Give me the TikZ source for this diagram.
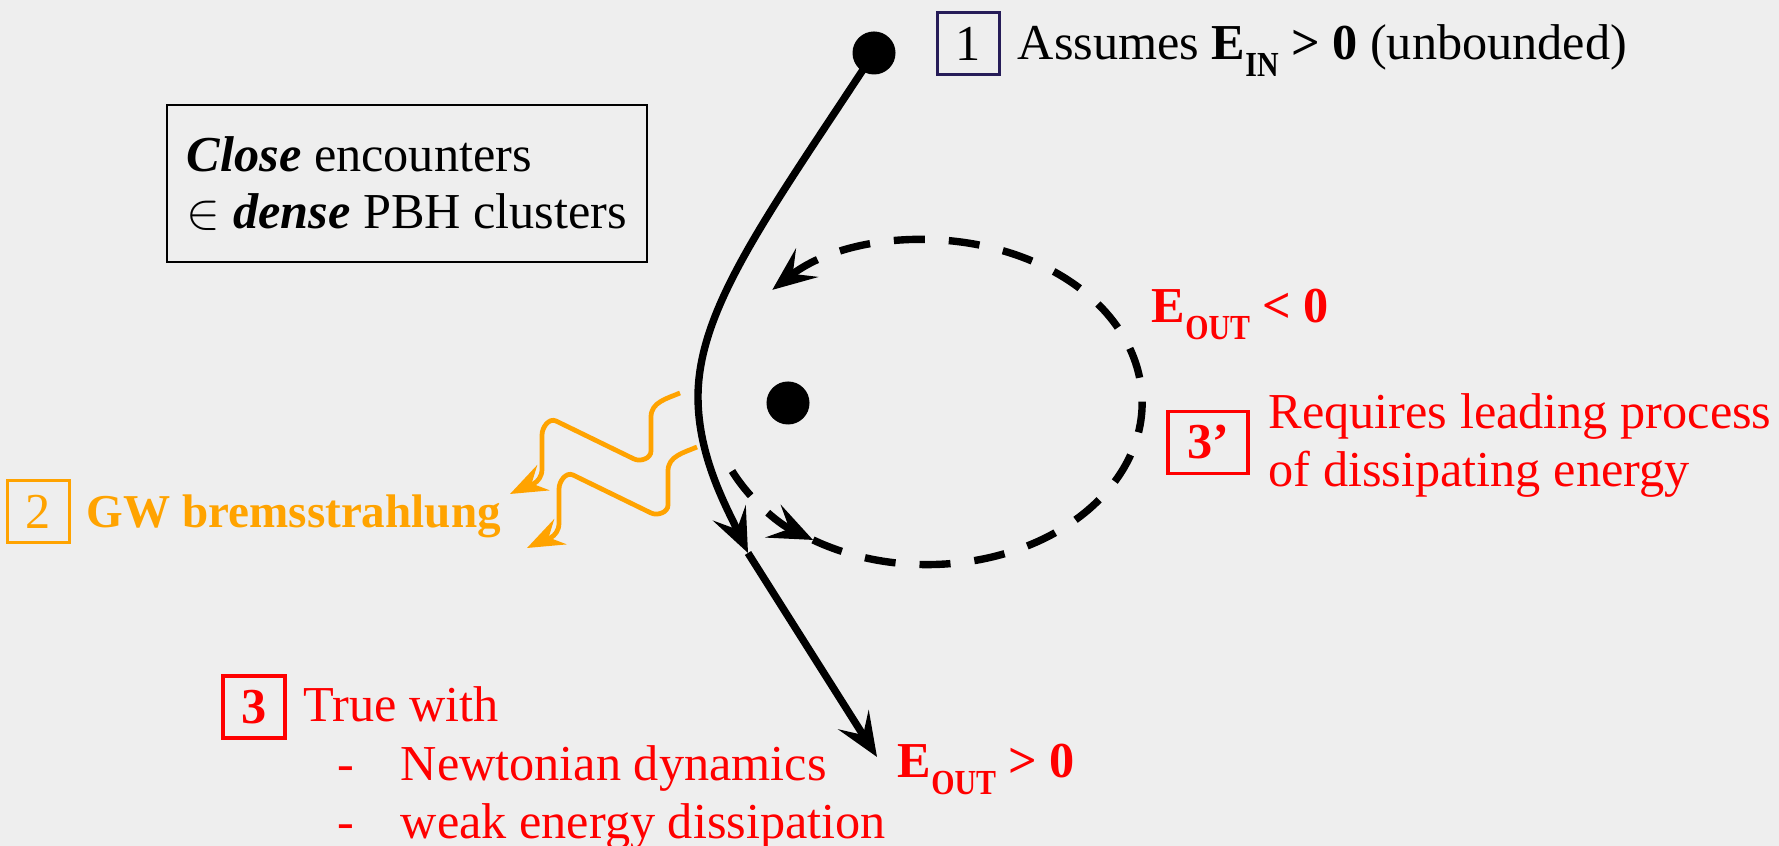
\documentclass[tikz,border=0pt]{standalone}
\usepackage{fontspec}
\setmainfont{Liberation Serif}
\usepackage{graphicx}
\usetikzlibrary{arrows.meta, positioning}

\definecolor{bgcol}{RGB}{238,238,238}
\definecolor{gworange}{RGB}{255,163,0}
\definecolor{boxnavy}{RGB}{38,28,88}
\definecolor{notered}{RGB}{255,0,0}

\newcommand{\lowsub}[1]{\raisebox{-0.33em}{\fontsize{10pt}{10pt}\selectfont\scalebox{0.85}[1]{#1}}}

\begin{document}
\begin{tikzpicture}[
    x=0.01cm, y=0.01cm,
    >={Stealth[length=4.4mm, width=3.6mm, inset=1.8mm]},
    txt/.style={
        inner sep=0pt, anchor=base west, align=left,
        font=\fontsize{14.3}{16.7}\selectfont
    },
    boldtxt/.style={txt, font=\fontsize{13.4}{16.7}\selectfont\bfseries},
    numbox/.style={
        draw, line width=0.9pt, inner sep=0pt,
        minimum width=6.2mm, minimum height=6.2mm,
        font=\fontsize{14.3}{16.7}\selectfont
    },
    hole/.style={circle, fill=black, inner sep=0pt, minimum size=4.3mm},
    orbitline/.style={line width=2.1pt},
    bound/.style={orbitline, dash pattern=on 3.1mm off 2.4mm},
    wave/.style={
        gworange, line width=1.35pt,
        -{Stealth[length=3.7mm, width=2.8mm, inset=1.3mm]}
    },
]

\useasboundingbox (0,0) rectangle (1779,846);
\fill[bgcol] (0,0) rectangle (1779,846);

% ── Black holes ──
\node[hole] (bh1) at (874,793) {};
\node[hole] (bh2) at (788,443) {};

% ── Hyperbolic trajectory ──
\coordinate (kink) at (748,293);
\coordinate (escape) at (877,89);
\draw[orbitline, ->] (bh1.center) .. controls (770,634) and (698,539) .. (698,449)
    .. controls (698,389) and (727,338) .. (kink);
\draw[orbitline, ->] (kink) -- (escape);

% ── Bound orbit (dashed) ──
\coordinate (orbitc) at (927,443.5);
\draw[bound, ->] ([shift={(205:2.15cm and 1.62cm)}]orbitc)
    arc[start angle=205, end angle=238, x radius=2.15cm, y radius=1.62cm] coordinate (bmid);
\draw[bound, ->] (bmid)
    arc[start angle=238, end angle=496, x radius=2.15cm, y radius=1.62cm];

% ── GW emission ──
\foreach \wx/\wy in {680/453, 697/399}
    \draw[wave] (\wx,\wy) to[out=203, in=90] ++(-29,-24) -- ++(0,-34)
        to[out=270, in=-25] ++(-17,-8) -- ++(-78,38)
        to[out=155, in=90] ++(-14,-14) -- ++(0,-34)
        to[out=270, in=26] ++(-32,-25);

% ── Labels ──
\node[numbox, draw=boxnavy] (n1) at (968.5,802.5) {1};
\node[txt] (t1) at (1017,786) {Assumes \textbf{E\lowsub{IN} > 0} (unbounded)};

\node[draw, line width=0.75pt, align=left, inner sep=0pt, minimum width=48mm,
      minimum height=15.7mm, font=\fontsize{14.3}{16.4}\selectfont] (encl) at (407,662.5)
    {\textbf{\textit{Close}} encounters\\$\in$ \textbf{\textit{dense}} PBH clusters};

\node[numbox, draw=gworange, text=gworange] (n2) at (38.5,334.5) {2};
\node[boldtxt, text=gworange] (gw) at (86,318) {GW bremsstrahlung};

\node[txt, text=notered] (eneg) at (1151,523) {\textbf{E\lowsub{OUT} < 0}};
\node[numbox, draw=notered, text=notered, minimum width=8mm] (n3b) at (1208,403.5) {\textbf{3’}};
\node[txt, text=notered] (t3b) at (1268,359) {Requires leading process\\of dissipating energy};

\node[numbox, draw=notered, text=notered] (n3) at (254,139) {\textbf{3}};
\node[txt, text=notered] (t3) at (303,7) {True with\\
    \hspace*{3.4mm}\makebox[6.3mm][l]{-}Newtonian dynamics\\
    \hspace*{3.4mm}\makebox[6.3mm][l]{-}weak energy dissipation};
\node[txt, text=notered] (epos) at (897,68) {\textbf{E\lowsub{OUT} > 0}};

\end{tikzpicture}
\end{document}
